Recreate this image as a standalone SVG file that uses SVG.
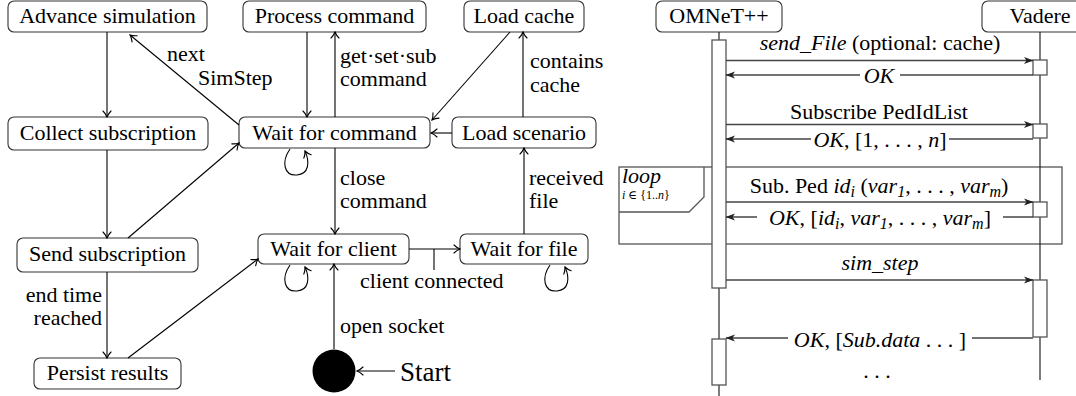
<svg xmlns="http://www.w3.org/2000/svg" width="1076" height="396" viewBox="0 0 1076 396" font-family="'Liberation Serif', 'DejaVu Serif', serif">
<defs>
<marker id="to" viewBox="-8 -5 9 10" refX="0" refY="0" markerWidth="9" markerHeight="10" markerUnits="userSpaceOnUse" orient="auto">
<path d="M-6,-4 C-4,-2 -1.5,-0.6 0,0 C-1.5,0.6 -4,2 -6,4" fill="none" stroke="#000" stroke-width="1.1" stroke-linecap="round"/>
</marker>
<marker id="st" viewBox="-10 -5 11 10" refX="0" refY="0" markerWidth="11" markerHeight="10" markerUnits="userSpaceOnUse" orient="auto">
<path d="M0.5,0 L-9,-3.5 L-6.5,0 L-9,3.5 Z" fill="#222"/>
</marker>
</defs>
<style>
text{font-family:'Liberation Serif','DejaVu Serif',serif;font-size:22px;fill:#000}
.node rect{fill:#fff;stroke:#333;stroke-width:1.1}
.c{text-anchor:middle}
.e{text-anchor:end}
.it{font-style:italic}
.sub{font-size:16px;font-style:italic}
.edge{fill:none;stroke:#000;stroke-width:1.1;marker-end:url(#to)}
.plain{fill:none;stroke:#000;stroke-width:1.1}
.msg{fill:none;stroke:#444;stroke-width:1.3;marker-end:url(#st)}
.life{fill:none;stroke:#111;stroke-width:1.1}
.act{fill:#fff;stroke:#555;stroke-width:1.3}
.frame{fill:none;stroke:#555;stroke-width:1.3}
.bg{fill:#fff}
</style>

<!-- State diagram nodes -->
<g id="advance-simulation" class="node"><rect x="8" y="1" width="199" height="31" rx="6"/><text class="c" x="107.5" y="23">Advance simulation</text></g>
<g id="process-command" class="node"><rect x="243" y="1" width="183" height="31" rx="6"/><text class="c" x="334.5" y="23">Process command</text></g>
<g id="load-cache" class="node"><rect x="464" y="1" width="120" height="31" rx="6"/><text class="c" x="524" y="23">Load cache</text></g>
<g id="collect-subscription" class="node"><rect x="8" y="117" width="200" height="33" rx="6"/><text class="c" x="108" y="140">Collect subscription</text></g>
<g id="wait-for-command" class="node"><rect x="239" y="117" width="191" height="31" rx="6"/><text class="c" x="334.5" y="140">Wait for command</text></g>
<g id="load-scenario" class="node"><rect x="452" y="117" width="144" height="31" rx="6"/><text class="c" x="524" y="140">Load scenario</text></g>
<g id="send-subscription" class="node"><rect x="17" y="238" width="181" height="34" rx="6"/><text class="c" x="107.5" y="261">Send subscription</text></g>
<g id="wait-for-client" class="node"><rect x="258" y="234" width="151" height="30" rx="6"/><text class="c" x="333.5" y="256">Wait for client</text></g>
<g id="wait-for-file" class="node"><rect x="460" y="234" width="128" height="30" rx="6"/><text class="c" x="524" y="256">Wait for file</text></g>
<g id="persist-results" class="node"><rect x="34" y="358" width="147" height="31" rx="6"/><text class="c" x="107.5" y="380">Persist results</text></g>
<g id="start"><circle cx="334" cy="371" r="21.5" fill="#000"/><text x="400" y="381" style="font-size:27px">Start</text></g>

<!-- State diagram connectors -->
<g id="state-connectors">
<path class="edge" d="M107,32 V117"/>
<path class="edge" d="M107,150 V238"/>
<path class="edge" d="M107,272 V358"/>
<path class="edge" d="M128,238 L239,143"/>
<path class="edge" d="M128,358 L258,259"/>
<path class="edge" d="M239,125 L130,35"/>
<path class="edge" d="M307,32 V117"/>
<path class="edge" d="M335,117 V32"/>
<path class="edge" d="M510,32 L432,120"/>
<path class="edge" d="M452,133 H431"/>
<path class="edge" d="M523,117 V32"/>
<path class="edge" d="M335,148 V234"/>
<path class="edge" d="M409,249 H460"/>
<path class="plain" d="M434,249 V270"/>
<path class="edge" d="M524,234 V148"/>
<path class="edge" d="M334,349 V264"/>
<path class="edge" d="M395,371 H357"/>
<path class="edge" d="M290,149 C281,162 284,176 297,175 C309,174 310,162 305,151"/>
<path class="edge" d="M290,265 C281,278 284,292 297,291 C309,290 310,278 305,267"/>
<path class="edge" d="M550,265 C541,278 544,292 557,291 C569,290 570,278 565,267"/>
<text x="167" y="61">next</text>
<text x="198" y="85">SimStep</text>
<text x="340" y="63">get·set·sub</text>
<text x="340" y="86">command</text>
<text x="530" y="68">contains</text>
<text x="530" y="92">cache</text>
<text x="340" y="185">close</text>
<text x="340" y="208">command</text>
<text x="529" y="185">received</text>
<text x="529" y="208">file</text>
<text x="360" y="288">client connected</text>
<text x="340" y="333">open socket</text>
<text class="e" x="102" y="302">end time</text>
<text class="e" x="102" y="325">reached</text>
</g>

<!-- Sequence diagram -->
<g id="omnet" class="node"><rect x="656" y="1" width="126" height="31" rx="6"/><text class="c" x="719" y="23">OMNeT++</text></g>
<g id="vadere" class="node"><rect x="982" y="1" width="120" height="31" rx="6"/><text class="c" x="1040" y="23">Vadere</text></g>

<g id="loop-frame">
<rect class="frame" x="619" y="167" width="443" height="77"/>
<path class="frame" d="M619,212 H689 L704,197 V167"/>
<text x="622" y="183" class="it">loop</text>
<text x="622" y="199" style="font-size:12px"><tspan class="it" style="font-size:12px">i</tspan> ∈ {1..<tspan class="it" style="font-size:12px">n</tspan>}</text>
</g>

<g id="lifelines">
<path class="life" d="M719,32 V396"/>
<path class="life" d="M1040,32 V380"/>
<rect class="act" x="712" y="40" width="14" height="248"/>
<rect class="act" x="712" y="339" width="14" height="46"/>
<rect class="act" x="1033" y="60" width="14" height="15"/>
<rect class="act" x="1033" y="124" width="14" height="14"/>
<rect class="act" x="1033" y="202" width="14" height="15"/>
<rect class="act" x="1033" y="280" width="14" height="57"/>
</g>

<g id="messages">
<path class="msg" d="M726,60.5 H1033"/>
<text class="c" x="880" y="50"><tspan class="it">send_File</tspan> (optional: cache)</text>

<path class="msg" d="M1033,75 H726"/>
<rect class="bg" x="860" y="66" width="40" height="18"/>
<text class="c it" x="879" y="83">OK</text>

<path class="msg" d="M726,124.5 H1033"/>
<text class="c" x="879" y="119">Subscribe PedIdList</text>

<path class="msg" d="M1033,139 H726"/>
<rect class="bg" x="811" y="129" width="138" height="20"/>
<text class="c" x="880" y="147"><tspan class="it">OK</tspan>, [1, . . . , <tspan class="it">n</tspan>]</text>

<path class="msg" d="M726,202 H1033"/>
<text class="c" x="879" y="193">Sub. Ped <tspan class="it">id</tspan><tspan class="sub" dy="4">i</tspan><tspan dy="-4"> (</tspan><tspan class="it">var</tspan><tspan class="sub" dy="4">1</tspan><tspan dy="-4">, . . . , </tspan><tspan class="it">var</tspan><tspan class="sub" dy="4">m</tspan><tspan dy="-4">)</tspan></text>

<path class="msg" d="M1033,217 H726"/>
<rect class="bg" x="757" y="207" width="246" height="22"/>
<text class="c" x="880" y="225"><tspan class="it">OK</tspan>, [<tspan class="it">id</tspan><tspan class="sub" dy="4">i</tspan><tspan dy="-4">, </tspan><tspan class="it">var</tspan><tspan class="sub" dy="4">1</tspan><tspan dy="-4">, . . . , </tspan><tspan class="it">var</tspan><tspan class="sub" dy="4">m</tspan><tspan dy="-4">]</tspan></text>

<path class="msg" d="M726,280 H1033"/>
<text class="c it" x="880" y="270">sim_step</text>

<path class="msg" d="M1033,338 H726"/>
<rect class="bg" x="788" y="328" width="184" height="20"/>
<text class="c" x="880" y="347"><tspan class="it">OK</tspan>, [<tspan class="it">Sub.data</tspan> . . . ]</text>

<text class="c" x="877" y="378">. . .</text>
</g>
</svg>
